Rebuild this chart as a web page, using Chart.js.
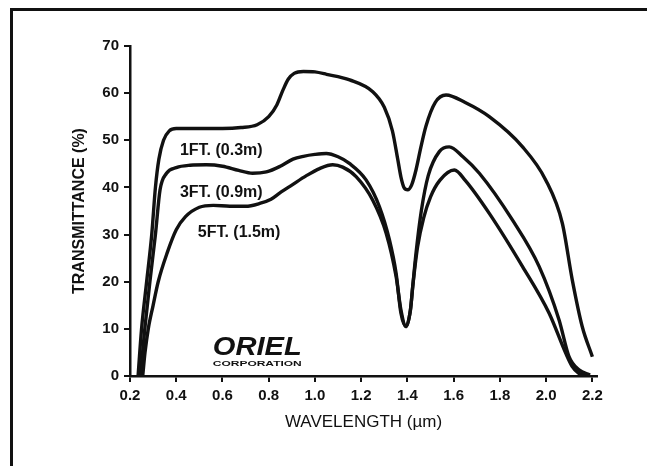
<!DOCTYPE html>
<html>
<head>
<meta charset="utf-8">
<script src="https://cdn.jsdelivr.net/npm/chart.js@4"></script>
<style>
  html, body { margin: 0; padding: 0; background: #fff; }
  #wrap { position: relative; width: 647px; height: 466px; overflow: hidden; }
  #frame { position: absolute; left: 10px; top: 8px; width: 660px; height: 480px;
           border-left: 3px solid #111; border-top: 3px solid #111; }
  canvas { position: absolute; left: 0; top: 0; }
</style>
</head>
<body>
<div id="wrap">
  <div id="frame"></div>
  <canvas id="c" width="647" height="466"></canvas>
</div>
<script>
// transmittance of air path vs wavelength
const xTicks = [0.2, 0.4, 0.6, 0.8, 1.0, 1.2, 1.4, 1.6, 1.8, 2.0, 2.2];
const yTicks = [0, 10, 20, 30, 40, 50, 60, 70];

const ft1Wave = [0.235, 0.25, 0.272, 0.294, 0.31, 0.325, 0.345, 0.37, 0.40, 0.50, 0.60, 0.68, 0.75, 0.80, 0.835, 0.862, 0.885, 0.91, 0.95, 1.0, 1.05, 1.15, 1.25, 1.30, 1.335, 1.358, 1.372, 1.385, 1.401, 1.418, 1.437, 1.458, 1.48, 1.52, 1.567, 1.65, 1.754, 1.898, 1.998, 2.07, 2.113, 2.156, 2.2];
const ft1Val  = [0, 10, 20, 30, 40, 46, 50, 52, 52.5, 52.5, 52.5, 52.7, 53.3, 55, 57.5, 60.7, 63, 64.2, 64.6, 64.5, 64, 62.8, 60.3, 57, 52, 46, 42.2, 40, 39.5, 40.5, 43.7, 48.5, 53, 58, 59.6, 58, 55, 48.6, 41.6, 32.4, 20.4, 10.5, 4.1];

const ft3Wave = [0.245, 0.264, 0.286, 0.31, 0.33, 0.358, 0.40, 0.46, 0.53, 0.60, 0.67, 0.73, 0.79, 0.85, 0.905, 0.95, 1.0, 1.049, 1.10, 1.149, 1.221, 1.279, 1.322, 1.351, 1.372, 1.394, 1.413, 1.423, 1.437, 1.46, 1.49, 1.538, 1.581, 1.64, 1.711, 1.854, 1.97, 2.056, 2.099, 2.142, 2.19];
const ft3Val  = [0, 10, 20, 30, 39.5, 43, 44.2, 44.7, 44.8, 44.5, 43.6, 43, 43.3, 44.5, 46, 46.6, 47, 47.2, 46.5, 45.1, 41.6, 35.9, 28.9, 21.8, 13.3, 10.5, 14, 19, 26, 35, 42.5, 47.6, 48.6, 46.5, 43, 33.1, 23.2, 11.9, 4.1, 1.3, 0.2];

const ft5Wave = [0.255, 0.265, 0.279, 0.30, 0.322, 0.36, 0.40, 0.44, 0.50, 0.56, 0.632, 0.70, 0.761, 0.81, 0.847, 0.90, 0.963, 1.02, 1.077, 1.12, 1.178, 1.25, 1.308, 1.351, 1.372, 1.394, 1.413, 1.423, 1.444, 1.47, 1.50, 1.54, 1.603, 1.65, 1.754, 1.898, 2.013, 2.085, 2.113, 2.14, 2.17];
const ft5Val  = [0, 5, 10, 15, 20, 26, 31, 33.8, 35.8, 36.2, 36, 36, 36.6, 37.5, 38.8, 40.5, 42.5, 44, 44.8, 44.3, 42.3, 37.3, 30.3, 21.1, 14, 10.5, 14, 19, 27.4, 33.5, 38, 41.5, 43.7, 41.5, 34.5, 23.2, 13.3, 4.8, 2, 0.6, 0];

const seriesNames = ['1FT. (0.3m)', '3FT. (0.9m)', '5FT. (1.5m)'];

function pts(xs, ys) { return xs.map((x, i) => ({ x: x, y: ys[i] })); }

const FONT = '"Liberation Sans", Arial, sans-serif';

// curve labels and the Oriel logo, placed in data coordinates
const annotate = {
  id: 'annotate',
  afterDatasetsDraw(chart) {
    const ctx = chart.ctx, sx = chart.scales.x, sy = chart.scales.y;
    const spots = [[0.416, 47.9], [0.416, 39.0], [0.493, 30.5]];
    ctx.save();
    ctx.fillStyle = '#111';
    ctx.font = 'bold 16px ' + FONT;
    ctx.textBaseline = 'middle';
    seriesNames.forEach((t, i) => {
      ctx.fillText(t, sx.getPixelForValue(spots[i][0]), sy.getPixelForValue(spots[i][1]));
    });
    // logo
    const lx = sx.getPixelForValue(0.558);
    const ly = sy.getPixelForValue(6.0);
    ctx.font = 'italic 900 25px ' + FONT;
    let w = ctx.measureText('ORIEL').width;
    ctx.save();
    ctx.translate(lx, ly);
    ctx.scale(89 / w, 1);
    ctx.fillText('ORIEL', 0, 0);
    ctx.restore();
    ctx.font = 'bold 8px ' + FONT;
    w = ctx.measureText('CORPORATION').width;
    ctx.save();
    ctx.translate(lx, sy.getPixelForValue(2.5));
    ctx.scale(89 / w, 1);
    ctx.fillText('CORPORATION', 0, 0);
    ctx.restore();
    ctx.restore();
  }
};

new Chart(document.getElementById('c'), {
  type: 'line',
  data: {
    datasets: [
      { label: seriesNames[0], data: pts(ft1Wave, ft1Val) },
      { label: seriesNames[1], data: pts(ft3Wave, ft3Val) },
      { label: seriesNames[2], data: pts(ft5Wave, ft5Val) }
    ].map(d => Object.assign(d, {
      borderColor: '#111', borderWidth: 3.4, pointRadius: 0,
      cubicInterpolationMode: 'monotone', fill: false
    }))
  },
  options: {
    responsive: false,
    animation: false,
    layout: { padding: { left: 69, right: 50, top: 46, bottom: 30 } },
    plugins: { legend: { display: false }, tooltip: { enabled: false } },
    scales: {
      x: {
        type: 'linear', min: 0.2, max: 2.22,
        afterFit(s) { s.height = 60; },
        afterBuildTicks(s) { s.ticks = xTicks.map(v => ({ value: v })); },
        grid: { drawOnChartArea: false, drawTicks: true, tickLength: 6, color: '#111', lineWidth: 2 },
        border: { display: true, color: '#111', width: 2.5 },
        ticks: {
          color: '#111', padding: 5, maxRotation: 0,
          font: { family: FONT, size: 15, weight: 'bold' },
          callback: v => v.toFixed(1)
        },
        title: {
          display: true, text: 'WAVELENGTH (\u00b5m)', color: '#111',
          font: { family: FONT, size: 17 }, padding: { top: 0, bottom: 3 }
        }
      },
      y: {
        min: 0, max: 70,
        afterFit(s) { s.width = 61; },
        afterBuildTicks(s) { s.ticks = yTicks.map(v => ({ value: v })); },
        grid: { drawOnChartArea: false, drawTicks: true, tickLength: 6, color: '#111', lineWidth: 2 },
        border: { display: true, color: '#111', width: 2.5 },
        ticks: {
          color: '#111', padding: 5,
          font: { family: FONT, size: 15, weight: 'bold' }
        },
        title: {
          display: true, text: 'TRANSMITTANCE (%)', color: '#111',
          font: { family: FONT, size: 16, weight: 'bold' }, padding: { top: 1, bottom: 0 }
        }
      }
    }
  },
  plugins: [annotate]
});
</script>
</body>
</html>
